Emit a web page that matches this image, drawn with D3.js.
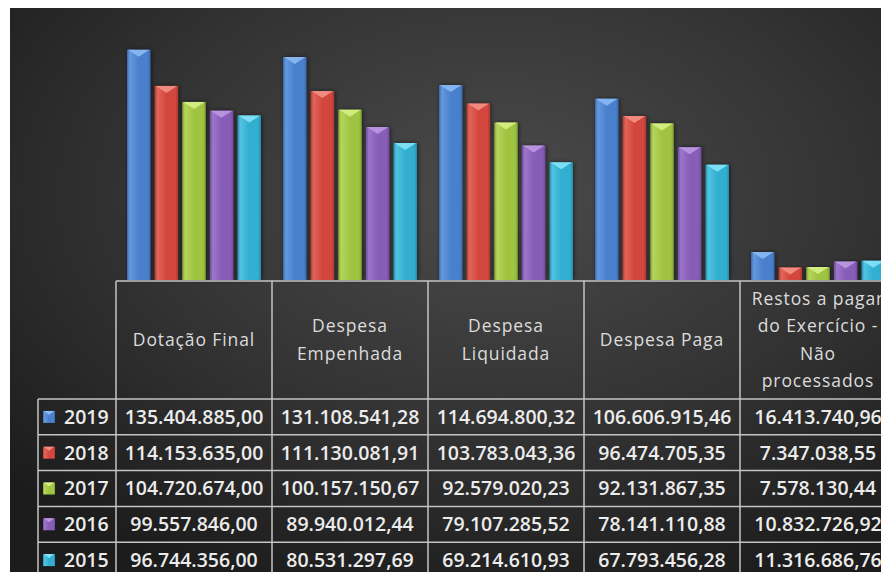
<!DOCTYPE html>
<html>
<head>
<meta charset="utf-8">
<script src="https://cdn.jsdelivr.net/npm/d3@7"></script>
<style>
  html, body { margin: 0; padding: 0; background: #ffffff; }
  svg { display: block; }
</style>
</head>
<body>
<svg id="chart" width="881" height="572"></svg>
<script>
// ---- data ----
const categories = ["Dotação Final", "Despesa Empenhada", "Despesa Liquidada", "Despesa Paga", "Restos a pagar do Exercício - Não processados"];
const categoryLines = [
  ["Dotação Final"],
  ["Despesa", "Empenhada"],
  ["Despesa", "Liquidada"],
  ["Despesa Paga"],
  ["Restos a pagar", "do Exercício -", "Não", "processados"]
];
const years = ["2019", "2018", "2017", "2016", "2015"];
const values2019 = [135404885.00, 131108541.28, 114694800.32, 106606915.46, 16413740.96];
const values2018 = [114153635.00, 111130081.91, 103783043.36, 96474705.35, 7347038.55];
const values2017 = [104720674.00, 100157150.67, 92579020.23, 92131867.35, 7578130.44];
const values2016 = [99557846.00, 89940012.44, 79107285.52, 78141110.88, 10832726.92];
const values2015 = [96744356.00, 80531297.69, 69214610.93, 67793456.28, 11316686.76];
const seriesValues = [values2019, values2018, values2017, values2016, values2015];
const yMax = 160000000;

const seriesColors = [
  { main: "#4a80cc", light: "#6498e0", dark: "#3a68aa", tip: "#8cbaf4" },
  { main: "#d2473e", light: "#e4645a", dark: "#a83a33", tip: "#f39085" },
  { main: "#a0c443", light: "#b4d65a", dark: "#829f35", tip: "#d6ef86" },
  { main: "#875db8", light: "#9d76cc", dark: "#6c4a95", tip: "#bc98e2" },
  { main: "#33aed0", light: "#4fc4e2", dark: "#288ca8", tip: "#86e2f6" }
];

const ptBR = d3.formatLocale({ decimal: ",", thousands: ".", grouping: [3], currency: ["R$", ""] });
const fmt = ptBR.format(",.2f");

// ---- layout ----
const W = 881, H = 572;
const svg = d3.select("#chart");
const defs = svg.append("defs");

const bg = defs.append("radialGradient").attr("id", "bg")
  .attr("cx", "0.56").attr("cy", "0.33").attr("r", "0.75")
  .attr("gradientUnits", "objectBoundingBox");
bg.append("stop").attr("offset", "0").attr("stop-color", "#4b4b4b");
bg.append("stop").attr("offset", "0.55").attr("stop-color", "#333333");
bg.append("stop").attr("offset", "1").attr("stop-color", "#1c1c1c");

seriesColors.forEach((c, i) => {
  const g = defs.append("linearGradient").attr("id", "bar" + i)
    .attr("x1", "0").attr("x2", "1").attr("y1", "0").attr("y2", "0");
  g.append("stop").attr("offset", "0").attr("stop-color", c.dark);
  g.append("stop").attr("offset", "0.12").attr("stop-color", c.light);
  g.append("stop").attr("offset", "0.5").attr("stop-color", c.main);
  g.append("stop").attr("offset", "0.88").attr("stop-color", c.main);
  g.append("stop").attr("offset", "1").attr("stop-color", c.dark);
});

const shadow = defs.append("filter").attr("id", "shadow")
  .attr("x", "-30%").attr("y", "-10%").attr("width", "160%").attr("height", "120%");
shadow.append("feDropShadow").attr("dx", 1).attr("dy", 0).attr("stdDeviation", 2)
  .attr("flood-color", "#000").attr("flood-opacity", 0.55);

svg.append("rect").attr("x", 10).attr("y", 8).attr("width", W - 10).attr("height", H - 8)
  .attr("fill", "url(#bg)");

const axisY = 281;
const tableLeft = 116;
const colW = 156;
const x0 = d3.scaleBand().domain(categories).range([tableLeft, tableLeft + colW * categories.length]).padding(0);
const x1 = d3.scaleBand().domain(years).range([11, 145]).paddingInner(0.15).paddingOuter(0);
const y = d3.scaleLinear().domain([0, yMax]).range([axisY - 1, 8]);

// ---- bars ----
const barData = [];
years.forEach((yr, si) => {
  categories.forEach((cat, ci) => {
    barData.push({ yr, si, cat, v: seriesValues[si][ci] });
  });
});

const bars = svg.append("g").attr("class", "bars");
const bg2 = bars.selectAll("g.bar").data(barData).join("g").attr("class", "bar");
bg2.append("rect")
  .attr("x", d => x0(d.cat) + x1(d.yr))
  .attr("y", d => y(d.v))
  .attr("width", x1.bandwidth())
  .attr("height", d => y(0) - y(d.v))
  .attr("fill", d => `url(#bar${d.si})`)
  .attr("filter", "url(#shadow)");
bg2.append("polygon")
  .attr("points", d => {
    const bx = x0(d.cat) + x1(d.yr), bw = x1.bandwidth(), by = y(d.v);
    const h = Math.min(7, (y(0) - by) * 0.6);
    return `${bx + 1},${by} ${bx + bw - 1},${by} ${bx + bw / 2},${by + h}`;
  })
  .attr("fill", d => seriesColors[d.si].tip)
  .attr("opacity", 0.9);

// ---- data table ----
const lineColor = "#c4c4c4";
const headerBottom = 399;
const rowH = 35.8;
const legendLeft = 38;
const grid = svg.append("g").attr("stroke", lineColor).attr("stroke-width", 1.5);

grid.append("line").attr("x1", tableLeft).attr("x2", W).attr("y1", axisY).attr("y2", axisY);
grid.append("line").attr("x1", legendLeft).attr("x2", W).attr("y1", headerBottom).attr("y2", headerBottom);
years.forEach((yr, i) => {
  if (i > 0) grid.append("line").attr("x1", legendLeft).attr("x2", W)
    .attr("y1", headerBottom + rowH * i).attr("y2", headerBottom + rowH * i);
});
categories.forEach(cat => {
  grid.append("line").attr("x1", x0(cat)).attr("x2", x0(cat)).attr("y1", axisY).attr("y2", H);
});
grid.append("line").attr("x1", legendLeft).attr("x2", legendLeft).attr("y1", headerBottom).attr("y2", H);

// headers
const font = "'Open Sans', 'Noto Sans', sans-serif";
const headerG = svg.append("g").attr("font-family", font).attr("font-size", 17.5)
  .attr("fill", "#dcdcdc").attr("text-anchor", "middle").attr("font-weight", 400)
  .attr("letter-spacing", 0.9);
categories.forEach((cat, ci) => {
  const lines = categoryLines[ci];
  const cy = (axisY + headerBottom) / 2;
  const lh = 27.5;
  lines.forEach((ln, li) => {
    headerG.append("text")
      .attr("x", x0(cat) + colW / 2)
      .attr("y", cy + (li - (lines.length - 1) / 2) * lh)
      .attr("dy", "0.35em")
      .text(ln);
  });
});

// rows
const rowsG = svg.append("g").attr("font-family", font).attr("font-size", 19.5)
  .attr("fill", "#ececec").attr("font-weight", 600);
years.forEach((yr, si) => {
  const cy = headerBottom + rowH * si + rowH / 2;
  rowsG.append("rect").attr("x", 43).attr("y", cy - 6).attr("width", 12).attr("height", 12)
    .attr("fill", `url(#bar${si})`);
  rowsG.append("polygon")
    .attr("points", `44,${cy - 6} 54,${cy - 6} 49,${cy - 2}`)
    .attr("fill", seriesColors[si].tip);
  rowsG.append("text").attr("x", 64).attr("y", cy).attr("dy", "0.35em").text(yr);
  categories.forEach((cat, ci) => {
    rowsG.append("text")
      .attr("x", x0(cat) + colW / 2)
      .attr("y", cy)
      .attr("dy", "0.35em")
      .attr("text-anchor", "middle")
      .text(fmt(seriesValues[si][ci]));
  });
});
</script>
</body>
</html>
